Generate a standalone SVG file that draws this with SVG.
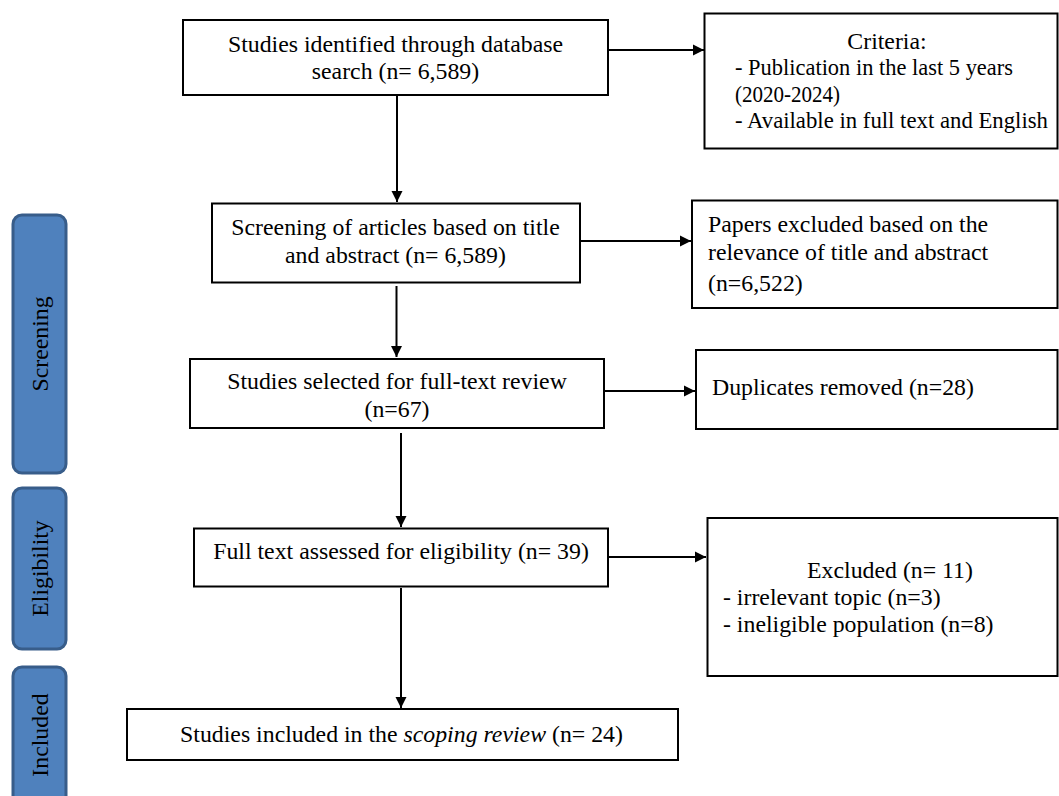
<svg xmlns="http://www.w3.org/2000/svg" width="1059" height="796" viewBox="0 0 1059 796">
<defs>
<style>
.box{fill:#ffffff;stroke:#000000;stroke-width:2}
.bar{fill:#4F81BD;stroke:#385D8A;stroke-width:3}
.t{font-family:"Liberation Serif","Times New Roman",serif;font-size:23.8px;fill:#000000}
.s{font-size:22.5px}
.c{text-anchor:middle}
.conn{stroke:#000000;stroke-width:2;fill:none;marker-end:url(#ah)}
</style>
<marker id="ah" markerUnits="userSpaceOnUse" markerWidth="12" markerHeight="12" refX="11" refY="6" orient="auto">
<path d="M0,0.5 L11,6 L0,11.5 z" fill="#000000"/>
</marker>
</defs>
<rect width="1059" height="796" fill="#ffffff"/>

<g id="phase-screening">
<rect class="bar" x="13" y="215" width="53" height="258" rx="9" ry="9"/>
<text class="t c" transform="translate(48,344) rotate(-90)">Screening</text>
</g>
<g id="phase-eligibility">
<rect class="bar" x="13" y="488" width="53" height="161" rx="9" ry="9"/>
<text class="t c" transform="translate(48,568.5) rotate(-90)">Eligibility</text>
</g>
<g id="phase-included">
<rect class="bar" x="13" y="667" width="53" height="140" rx="9" ry="9"/>
<text class="t c" transform="translate(48,735) rotate(-90)">Included</text>
</g>

<g id="connectors">
<line class="conn" x1="609" y1="50" x2="704" y2="50"/>
<line class="conn" x1="397" y1="96" x2="397" y2="202"/>
<line class="conn" x1="581" y1="241" x2="691" y2="241"/>
<line class="conn" x1="396.5" y1="286" x2="396.5" y2="357"/>
<line class="conn" x1="605" y1="391" x2="695" y2="391"/>
<line class="conn" x1="401" y1="433" x2="401" y2="527"/>
<line class="conn" x1="609" y1="557" x2="706" y2="557"/>
<line class="conn" x1="401" y1="588" x2="401" y2="708"/>
</g>

<g id="n-identified">
<rect class="box" x="183" y="20" width="425" height="75"/>
<text class="t c" x="395.5" y="52">Studies identified through database</text>
<text class="t c" x="395.5" y="79">search (n= 6,589)</text>
</g>

<g id="n-criteria">
<rect class="box" x="704.5" y="13.5" width="353" height="135"/>
<text class="t c" x="887" y="48.5">Criteria:</text>
<text class="t s" x="735" y="75" textLength="278" lengthAdjust="spacingAndGlyphs">- Publication in the last 5 years</text>
<text class="t s" x="735" y="101.5" textLength="105" lengthAdjust="spacingAndGlyphs">(2020-2024)</text>
<text class="t s" x="735" y="128" textLength="313" lengthAdjust="spacingAndGlyphs">- Available in full text and English</text>
</g>

<g id="n-screening">
<rect class="box" x="212" y="203.5" width="368" height="79"/>
<text class="t c" x="395.5" y="234.5">Screening of articles based on title</text>
<text class="t c" x="395.5" y="262.5">and abstract (n= 6,589)</text>
</g>

<g id="n-papers-excluded">
<rect class="box" x="692" y="200.5" width="365.5" height="107.5"/>
<text class="t" x="708" y="232">Papers excluded based on the</text>
<text class="t" x="708" y="259.5">relevance of title and abstract</text>
<text class="t" x="708" y="291">(n=6,522)</text>
</g>

<g id="n-selected">
<rect class="box" x="190" y="359" width="414" height="69"/>
<text class="t c" x="397" y="389">Studies selected for full-text review</text>
<text class="t c" x="397" y="416.5">(n=67)</text>
</g>

<g id="n-duplicates">
<rect class="box" x="696" y="350" width="361.5" height="79"/>
<text class="t" x="712" y="395">Duplicates removed (n=28)</text>
</g>

<g id="n-fulltext">
<rect class="box" x="194" y="528.5" width="414" height="58"/>
<text class="t c" x="401" y="559">Full text assessed for eligibility (n= 39)</text>
</g>

<g id="n-excluded">
<rect class="box" x="707.5" y="518" width="350" height="158"/>
<text class="t c" x="890" y="578">Excluded (n= 11)</text>
<text class="t" x="723" y="605">- irrelevant topic (n=3)</text>
<text class="t" x="723" y="632">- ineligible population (n=8)</text>
</g>

<g id="n-included">
<rect class="box" x="127" y="709" width="551" height="51"/>
<text class="t c" x="401.5" y="742">Studies included in the <tspan font-style="italic">scoping review</tspan> (n= 24)</text>
</g>
</svg>
